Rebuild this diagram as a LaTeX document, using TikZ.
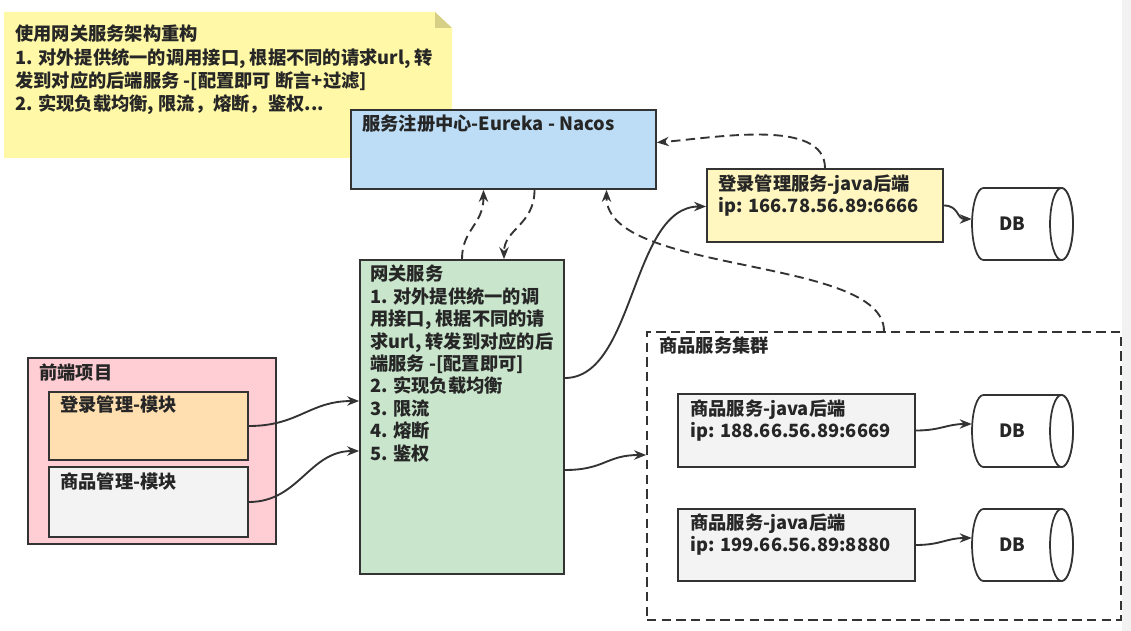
\documentclass[tikz,border=0pt]{standalone}
\usepackage{fontspec}
\setmainfont{Noto Sans CJK SC}
\usetikzlibrary{arrows.meta,calc,fit}
\definecolor{edge}{HTML}{333333}
\definecolor{ink}{HTML}{262626}
\definecolor{sticky}{HTML}{FFF8A6}
\definecolor{fold}{HTML}{D6CF86}
\definecolor{regc}{HTML}{BCDDF5}
\definecolor{lsc}{HTML}{FFF6C0}
\definecolor{gwc}{HTML}{C9E6CC}
\definecolor{fec}{HTML}{FFCDD4}
\definecolor{lmc}{HTML}{FFDFB0}
\definecolor{greyc}{HTML}{F3F3F3}
\definecolor{stripc}{HTML}{F2F2F2}
\newcommand\dbshape[4]{% L T R B
  \draw[dbs] (#3-11.5,#2) -- (#1+11.5,#2)
    arc[start angle=90,end angle=270,x radius=8.6pt,y radius=27pt]
    -- (#3-11.5,#4)
    arc[start angle=-90,end angle=90,x radius=8.6pt,y radius=27pt] -- cycle;
  \draw[dbs] (#3-11.5,{(#2+#4)/2}) ellipse[x radius=8.6pt,y radius=27pt];
}
\begin{document}
\begin{tikzpicture}[x=0.75pt,y=-0.75pt,
  box/.style={draw=edge,line width=1.3pt,inner sep=0pt},
  txt/.style={anchor=north west,inner sep=0pt,align=left,text=ink,
    font=\fontsize{13.7}{16.5}\selectfont\bfseries},
  dbs/.style={draw=edge,line width=1.3pt,fill=white},
  conn/.style={draw=edge,line width=1.4pt,-{Stealth[length=9pt,width=7pt]}},
  dconn/.style={conn,dash pattern=on 7pt off 4pt},
]
\useasboundingbox (0,0) rectangle (1131,631);
\fill[white] (0,0) rectangle (1131,631);
\fill[stripc] (1122,0) rectangle (1131,631);

% sticky note
\fill[sticky] (4,12) -- (435,12) -- (452,28) -- (452,158) -- (4,158) -- cycle;
\fill[fold] (435,12) -- (435,28) -- (452,28) -- cycle;
\node[txt,font=\fontsize{13.7}{17.4}\selectfont\bfseries] (note) at (15,25)
  {使用网关服务架构重构\\1. 对外提供统一的调用接口, 根据不同的请求url, 转\\发到对应的后端服务 -[配置即可 断言+过滤]\\2. 实现负载均衡, 限流，熔断，鉴权...};

% registry
\node[box,fill=regc,fit={(351,110)(656,189)}] (reg) {};
\node[txt] (regt) at (362,115) {服务注册中心-Eureka - Nacos};

% login service
\node[box,fill=lsc,fit={(707,169)(943,242)}] (ls) {};
\node[txt] (lst) at (718,174) {登录管理服务-java后端\\ip: 166.78.56.89:6666};

% gateway
\node[box,fill=gwc,fit={(360,260)(564,574)}] (gw) {};
\node[txt,font=\fontsize{13.7}{16.8}\selectfont\bfseries] (gwt) at (370,265)
  {网关服务\\1. 对外提供统一的调\\用接口, 根据不同的请\\求url, 转发到对应的后\\端服务 -[配置即可]\\2. 实现负载均衡\\3. 限流\\4. 熔断\\5. 鉴权};

% frontend
\node[box,fill=fec,fit={(28,358)(276,544)}] (fe) {};
\node[txt] (fet) at (39,364) {前端项目};
\node[box,fill=lmc,fit={(49,392)(248,460)}] (lm) {};
\node[txt] (lmt) at (60,395) {登录管理-模块};
\node[box,fill=greyc,fit={(49,467)(248,537)}] (pm) {};
\node[txt] (pmt) at (60,472) {商品管理-模块};

% cluster
\node[draw=edge,line width=1.3pt,dash pattern=on 7pt off 4pt,inner sep=0pt,fit={(647,332)(1121,620)}] (cl) {};
\node[txt] (clt) at (659,336) {商品服务集群};
\node[box,fill=greyc,fit={(678,394)(915,467)}] (ps1) {};
\node[txt] (ps1t) at (690,399) {商品服务-java后端\\ip: 188.66.56.89:6669};
\node[box,fill=greyc,fit={(678,509)(915,581)}] (ps2) {};
\node[txt] (ps2t) at (690,513) {商品服务-java后端\\ip: 199.66.56.89:8880};

% databases
\dbshape{972}{188}{1073}{260}
\dbshape{972}{395}{1073}{467}
\dbshape{972}{509}{1073}{581}
\node[inner sep=0pt,fit={(972,188)(1073,260)}] (db1) {};
\node[inner sep=0pt,fit={(972,395)(1073,467)}] (db2) {};
\node[inner sep=0pt,fit={(972,509)(1073,581)}] (db3) {};
\node[txt,anchor=center] (db1t) at (1012,224) {DB};
\node[txt,anchor=center] (db2t) at (1012,431) {DB};
\node[txt,anchor=center] (db3t) at (1012,545) {DB};

% dashed registry links
\draw[dconn] (gw.north) .. controls ($(gw.north)+(0,-30)$) and ($(reg.south)+(-20,35)$) .. ($(reg.south)+(-20,0)$);
\draw[dconn] ($(reg.south)+(31,0)$) .. controls ($(reg.south)+(31,35)$) and ($(gw.north)+(42,-30)$) .. ($(gw.north)+(42,0)$);
\draw[dconn] (ls.north) .. controls ($(ls.north)+(0,-50)$) and ($(reg.east)+(60,-12)$) .. ($(reg.east)+(0,-7)$);
\draw[dconn] (cl.north) .. controls ($(cl.north)+(0,-75)$) and ($(reg.south)+(103,85)$) .. ($(reg.south)+(103,0)$);

% solid links
\draw[conn] ($(gw.east)+(0,-39)$) .. controls ($(gw.east)+(70,-39)$) and ($(ls.west)+(-75,1)$) .. ($(ls.west)+(0,1)$);
\draw[conn] ($(gw.east)+(0,53)$) .. controls ($(gw.east)+(40,53)$) and ($(cl.west)+(-40,-21)$) .. ($(cl.west)+(0,-21)$);
\draw[conn] (lm.east) .. controls ($(lm.east)+(50,0)$) and ($(gw.west)+(-50,-16)$) .. ($(gw.west)+(0,-16)$);
\draw[conn] (pm.east) .. controls ($(pm.east)+(50,0)$) and ($(gw.west)+(-50,34)$) .. ($(gw.west)+(0,34)$);
\draw[conn] (ls.east) .. controls ($(ls.east)+(15,0)$) and ($(db1.west)+(-15,-5)$) .. ($(db1.west)+(0,-5)$);
\draw[conn] (ps1.east) .. controls ($(ps1.east)+(25,0)$) and ($(db2.west)+(-25,-7)$) .. ($(db2.west)+(0,-7)$);
\draw[conn] (ps2.east) .. controls ($(ps2.east)+(25,0)$) and ($(db3.west)+(-25,-7)$) .. ($(db3.west)+(0,-7)$);
\end{tikzpicture}
\end{document}
